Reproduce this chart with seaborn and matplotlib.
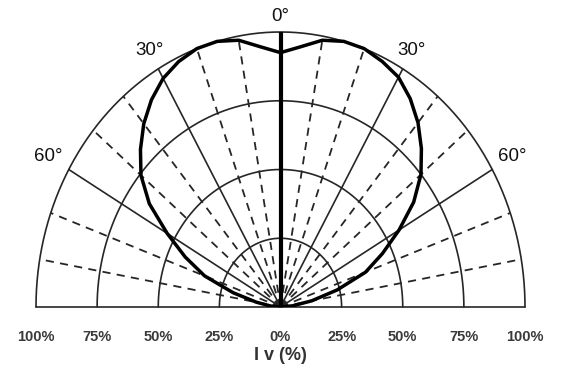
import numpy as np
import pandas as pd
import matplotlib
matplotlib.use("Agg")
import matplotlib.pyplot as plt
import seaborn as sns

# ---- data ----
angles_deg = [0, 5, 10, 15, 20, 25, 30, 35, 40, 45, 50, 55, 60, 65, 70, 75, 80, 85, 90]
right_values = [0.925, 0.95, 0.985, 1.00, 1.00, 0.985, 0.965, 0.925, 0.875, 0.815, 0.75, 0.665, 0.56, 0.46, 0.37, 0.24, 0.13, 0.05, 0.0]
left_values = [0.925, 0.95, 0.985, 1.00, 1.00, 0.985, 0.96, 0.92, 0.87, 0.81, 0.745, 0.655, 0.535, 0.43, 0.33, 0.20, 0.10, 0.04, 0.0]
ring_levels = [0.25, 0.5, 0.75, 1.0]
spoke_angles = [-90, -80, -70, -60, -50, -40, -30, -20, -10, 0, 10, 20, 30, 40, 50, 60, 70, 80, 90]
solid_spokes = [-90, -60, -30, 0, 30, 60, 90]
tick_positions = [-1.0, -0.75, -0.5, -0.25, 0.0, 0.25, 0.5, 0.75, 1.0]
tick_labels = ["100%", "75%", "50%", "25%", "0%", "25%", "50%", "75%", "100%"]
angle_labels = [-60, -30, 0, 30, 60]
angle_label_texts = ["60°", "30°", "0°", "30°", "60°"]
xlabel_text = "I v (%)"

sns.set_style("white")
plt.rcParams['font.family'] = ['Liberation Sans', 'DejaVu Sans']

fig = plt.figure(figsize=(5.64, 3.87), dpi=100)
ax = fig.add_axes([36/564, 1 - 307/387, 489/564, 275/387])

grid_col = "#262626"
# rings
t = np.linspace(-np.pi/2, np.pi/2, 400)
for r in ring_levels:
    ax.plot(r*np.sin(t), r*np.cos(t), color=grid_col, lw=1.2, clip_on=False, zorder=2)
# spokes
for a in spoke_angles:
    th = np.deg2rad(a)
    if a == 0:
        ax.plot([0, 0], [0, 1], color="black", lw=3.0, zorder=4, solid_capstyle="butt")
    elif a in solid_spokes:
        ax.plot([0, np.sin(th)], [0, np.cos(th)], color=grid_col, lw=1.2, zorder=2, clip_on=False)
    else:
        ax.plot([0, np.sin(th)], [0, np.cos(th)], color=grid_col, lw=1.3,
                linestyle=(0, (4.5, 3.5)), zorder=2, clip_on=False)

# curve
ang = np.deg2rad(np.array(angles_deg))
lv = np.array(left_values)
rv = np.array(right_values)
xs = np.concatenate([(-lv*np.sin(ang))[::-1], (rv*np.sin(ang))[1:]])
ys = np.concatenate([(lv*np.cos(ang))[::-1], (rv*np.cos(ang))[1:]])
df = pd.DataFrame({"x": xs, "y": ys})
sns.lineplot(data=df, x="x", y="y", sort=False, estimator=None, color="black",
             lw=2.5, ax=ax, zorder=5)
ax.set_xlim(-1, 1)
ax.set_ylim(0, 1)
ax.axis("off")

# angle labels
for a, s in zip(angle_labels, angle_label_texts):
    th = np.deg2rad(a)
    rr = 1.055 if a == 0 else (1.075 if abs(a) == 30 else 1.095)
    ax.text(rr*np.sin(th), rr*np.cos(th), s, ha="center", va="center",
            fontsize=13.5, color="#111111", clip_on=False)

# tick labels
for p, s in zip(tick_positions, tick_labels):
    ax.text(p, -0.11, s, ha="center", va="center", fontsize=10.5, color="#3a3a3a",
            fontweight="bold", clip_on=False)
ax.text(0, -0.175, xlabel_text, ha="center", va="center", fontsize=13,
        color="#333333", fontweight="bold", clip_on=False)

fig.savefig("out.png", dpi=100)
